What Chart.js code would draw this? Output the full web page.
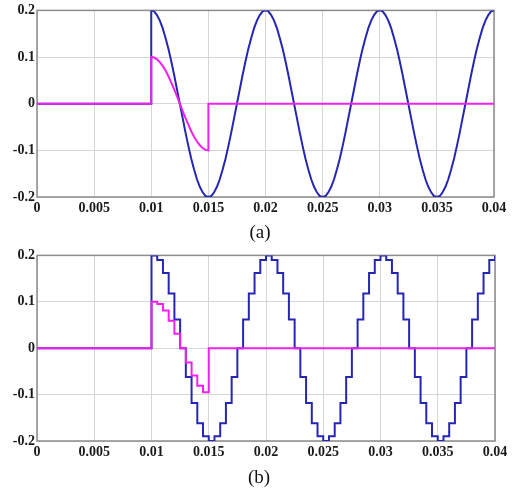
<!DOCTYPE html>
<html lang="en">
<head>
<meta charset="UTF-8">
<title>Response waveforms (a) and (b)</title>
<style>
    body {
        margin: 0;
        background: #fff;
        width: 518px;
        height: 493px;
        position: relative;
        overflow: hidden;
    }
    .panel {
        position: absolute;
        left: 0;
        width: 518px;
        height: 222px;
    }
    #panelA { top: 0; }
    #panelB { top: 245px; }
    .caption {
        position: absolute;
        width: 60px;
        text-align: center;
        font-family: 'Liberation Serif', 'Times New Roman', serif;
        font-size: 19px;
        color: #111;
        line-height: 22px;
    }
    #capA { left: 230px; top: 221px; }
    #capB { left: 229px; top: 466px; }
</style>
</head>
<body>

<div class="panel" id="panelA"><canvas id="chartA" width="518" height="222"></canvas></div>
<div class="caption" id="capA">(a)</div>
<div class="panel" id="panelB"><canvas id="chartB" width="518" height="222"></canvas></div>
<div class="caption" id="capB">(b)</div>

<script src="https://cdn.jsdelivr.net/npm/chart.js"></script>
<script>
    // time axis
    const xTicks = [0, 0.005, 0.01, 0.015, 0.02, 0.025, 0.03, 0.035, 0.04];
    const yTicks = [-0.2, -0.1, 0, 0.1, 0.2];
    const stepOn = 0.01;      // both signals switch on here
    const stepOffMag = 0.015; // magenta signal switches off here

    // (a) continuous signals, read every 0.00025 s from 0.01 s
    const sampleA = 0.00025;
    const blueA = [
        0.200, 0.198, 0.190, 0.178, 0.162, 0.141, 0.118, 0.091, 0.062, 0.031,
        0, -0.031, -0.062, -0.091, -0.118, -0.141, -0.162, -0.178, -0.190, -0.198,
        -0.200, -0.198, -0.190, -0.178, -0.162, -0.141, -0.118, -0.091, -0.062, -0.031,
        0, 0.031, 0.062, 0.091, 0.118, 0.141, 0.162, 0.178, 0.190, 0.198,
        0.200, 0.198, 0.190, 0.178, 0.162, 0.141, 0.118, 0.091, 0.062, 0.031,
        0, -0.031, -0.062, -0.091, -0.118, -0.141, -0.162, -0.178, -0.190, -0.198,
        -0.200, -0.198, -0.190, -0.178, -0.162, -0.141, -0.118, -0.091, -0.062, -0.031,
        0, 0.031, 0.062, 0.091, 0.118, 0.141, 0.162, 0.178, 0.190, 0.198,
        0.200, 0.198, 0.190, 0.178, 0.162, 0.141, 0.118, 0.091, 0.062, 0.031,
        0, -0.031, -0.062, -0.091, -0.118, -0.141, -0.162, -0.178, -0.190, -0.198,
        -0.200, -0.198, -0.190, -0.178, -0.162, -0.141, -0.118, -0.091, -0.062, -0.031,
        0, 0.031, 0.062, 0.091, 0.118, 0.141, 0.162, 0.178, 0.190, 0.198,
        0.200
    ];
    const magentaA = [
        0.100, 0.099, 0.095, 0.089, 0.081, 0.071, 0.059, 0.045, 0.031, 0.016,
        0, -0.016, -0.031, -0.045, -0.059, -0.071, -0.081, -0.089, -0.095, -0.099,
        -0.100
    ];

    // (b) sampled (stair) signals, held every 0.0005 s from 0.01 s
    const sampleB = 0.0005;
    const blueB = [
        0.200, 0.190, 0.162, 0.118, 0.062, 0, -0.062, -0.118, -0.162, -0.190,
        -0.200, -0.190, -0.162, -0.118, -0.062, 0, 0.062, 0.118, 0.162, 0.190,
        0.200, 0.190, 0.162, 0.118, 0.062, 0, -0.062, -0.118, -0.162, -0.190,
        -0.200, -0.190, -0.162, -0.118, -0.062, 0, 0.062, 0.118, 0.162, 0.190,
        0.200, 0.190, 0.162, 0.118, 0.062, 0, -0.062, -0.118, -0.162, -0.190,
        -0.200, -0.190, -0.162, -0.118, -0.062, 0, 0.062, 0.118, 0.162, 0.190,
        0.200
    ];
    const magentaB = [
        0.100, 0.095, 0.081, 0.059, 0.031, 0, -0.031, -0.059, -0.081, -0.095
    ];

    const BLUE = '#2626b4';
    const MAGENTA = '#f020f0';

    function series(vals, dt, lead, tail) {
        const pts = lead.slice();
        vals.forEach((v, i) => pts.push({ x: stepOn + i * dt, y: v }));
        return pts.concat(tail);
    }

    const zeroLead = [{ x: 0, y: 0 }, { x: stepOn, y: 0 }];
    const magTail = [{ x: stepOffMag, y: 0 }, { x: 0.04, y: 0 }];

    // draws the grey box round the plot area
    const framePlugin = {
        id: 'frame',
        beforeDatasetsDraw(chart) {
            const a = chart.chartArea, ctx = chart.ctx;
            ctx.save();
            ctx.strokeStyle = '#8c8c8c';
            ctx.lineWidth = 1.5;
            ctx.strokeRect(a.left, a.top, a.right - a.left, a.bottom - a.top);
            ctx.restore();
        }
    };

    Chart.defaults.font.family = "'Liberation Serif', 'Times New Roman', serif";

    function makeChart(id, datasets, padRight, xAxisHeight) {
        return new Chart(document.getElementById(id), {
            type: 'line',
            data: { datasets: datasets },
            options: {
                responsive: false,
                animation: false,
                layout: { padding: { top: 8, right: padRight, bottom: 0, left: 0 } },
                plugins: { legend: { display: false }, tooltip: { enabled: false } },
                elements: { point: { radius: 0 }, line: { tension: 0, borderWidth: 2 } },
                scales: {
                    x: {
                        type: 'linear', min: 0, max: 0.04,
                        afterBuildTicks: s => { s.ticks = xTicks.map(v => ({ value: v })); },
                        afterFit: s => { s.height = xAxisHeight; },
                        grid: { color: '#d6d6d6', lineWidth: 1, drawTicks: false },
                        border: { display: false },
                        ticks: {
                            padding: 3, color: '#1a1a1a', maxRotation: 0, autoSkip: false,
                            font: { size: 14, weight: 'bold' },
                            callback: v => String(+v.toFixed(3))
                        }
                    },
                    y: {
                        min: -0.2, max: 0.2,
                        afterBuildTicks: s => { s.ticks = yTicks.map(v => ({ value: v })); },
                        afterFit: s => { s.width = 37; },
                        grid: { color: '#d6d6d6', lineWidth: 1, drawTicks: false },
                        border: { display: false },
                        ticks: {
                            padding: 2, color: '#1a1a1a',
                            font: { size: 14, weight: 'bold' },
                            callback: v => String(+v.toFixed(1))
                        }
                    }
                }
            },
            plugins: [framePlugin]
        });
    }

    makeChart('chartA', [
        { data: series(magentaA, sampleA, zeroLead, magTail), borderColor: MAGENTA },
        { data: series(blueA, sampleA, zeroLead, []), borderColor: BLUE }
    ], 24, 25);

    makeChart('chartB', [
        { data: series(magentaB, sampleB, zeroLead, magTail), borderColor: MAGENTA, stepped: 'before' },
        { data: series(blueB, sampleB, zeroLead, []), borderColor: BLUE, stepped: 'before' }
    ], 23, 26);
</script>
</body>
</html>
